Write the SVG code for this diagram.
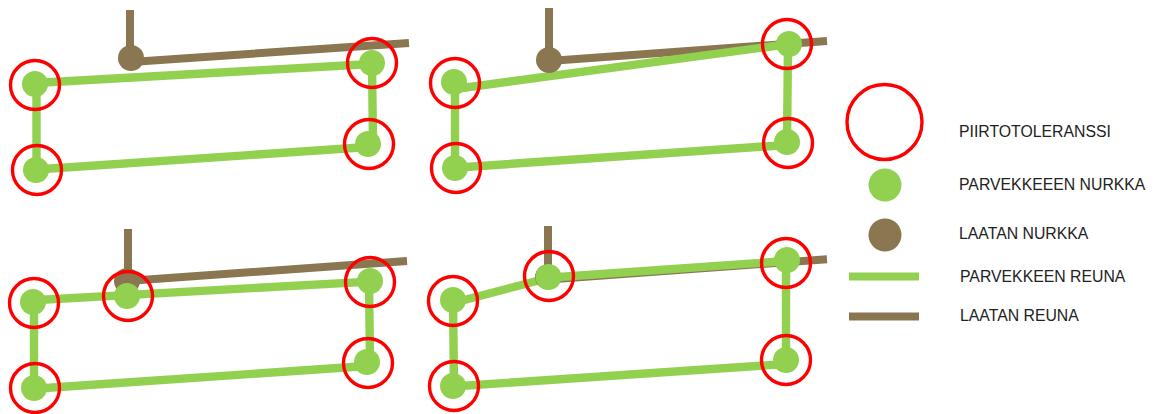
<svg xmlns="http://www.w3.org/2000/svg" width="1157" height="414" viewBox="0 0 1157 414">
<style>
.ge{fill:none;stroke:#92d050;stroke-width:8.400}
.te{fill:none;stroke:#8a7650;stroke-width:8}
.gn{fill:#92d050}
.tn{fill:#8a7650}
.tol{fill:none;stroke:#ff0000;stroke-width:3.4}
text{font-family:"Liberation Sans",Arial,sans-serif;font-size:15.8px;fill:#222222}
</style>
<rect width="1157" height="414" fill="#ffffff"/>
<g id="connectors">
<path class="te" d="M130 10V58M131 62L409 43"/>
<path class="ge" d="M35 83L372 64M372 63L373 144M368 147L36 169.500M36.500 84V170"/>
<path class="te" d="M549 8V60M549 61L827 41"/>
<path class="ge" d="M455 89L789 44M788 44L787 142M787 145L455 167.700M455 83V168"/>
<path class="te" d="M128 229V281M127 281L407 261"/>
<path class="ge" d="M33 300.200L370 281.600M369 281L370 362M367 366L34 388.800M34 302V388"/>
<path class="te" d="M548 226V277M548 279.500L827 259.300"/>
<path class="ge" d="M453 303L548 278M548 277.700L787 261M786 260V360M786 364L453 386.500M453 300L454 386"/>
</g>
<g id="panel-1">
<circle class="tn" cx="131" cy="58" r="13"/>
<circle class="gn" cx="35" cy="84" r="13"/><circle class="gn" cx="372" cy="63" r="13"/><circle class="gn" cx="368" cy="144" r="13"/><circle class="gn" cx="36" cy="170" r="13"/>
<circle class="tol" cx="35" cy="85" r="24.500"/><circle class="tol" cx="372" cy="63" r="24.500"/><circle class="tol" cx="369" cy="144" r="24.500"/><circle class="tol" cx="37" cy="170" r="24.500"/>
</g>
<g id="panel-2">
<circle class="tn" cx="549" cy="60" r="13"/>
<circle class="gn" cx="454" cy="82" r="13"/><circle class="gn" cx="789" cy="44" r="13"/><circle class="gn" cx="787" cy="142" r="13"/><circle class="gn" cx="455" cy="168" r="13"/>
<circle class="tol" cx="455" cy="83" r="24.500"/><circle class="tol" cx="787" cy="44" r="24.500"/><circle class="tol" cx="788" cy="143" r="24.500"/><circle class="tol" cx="456" cy="168" r="24.500"/>
</g>
<g id="panel-3">
<circle class="tn" cx="127" cy="281" r="13"/>
<circle class="gn" cx="33" cy="302" r="13"/><circle class="gn" cx="127" cy="296" r="13"/><circle class="gn" cx="370" cy="281" r="13"/><circle class="gn" cx="367" cy="362" r="13"/><circle class="gn" cx="34" cy="388" r="13"/>
<circle class="tol" cx="34" cy="303" r="24.500"/><circle class="tol" cx="128" cy="296" r="24.500"/><circle class="tol" cx="370" cy="282" r="24.500"/><circle class="tol" cx="368" cy="363" r="24.500"/><circle class="tol" cx="35" cy="388" r="24.500"/>
</g>
<g id="panel-4">
<circle class="tn" cx="547.500" cy="277" r="12.500"/>
<circle class="gn" cx="453" cy="300" r="13"/><circle class="gn" cx="548.500" cy="277" r="13"/><circle class="gn" cx="787" cy="260" r="13"/><circle class="gn" cx="786" cy="360" r="13"/><circle class="gn" cx="453" cy="386" r="13"/>
<circle class="tol" cx="453" cy="301" r="24.500"/><circle class="tol" cx="549" cy="276" r="24.500"/><circle class="tol" cx="786" cy="263" r="24.500"/><circle class="tol" cx="786" cy="360" r="24.500"/><circle class="tol" cx="454" cy="386" r="24.500"/>
</g>
<g id="legend-tolerance"><circle class="tol" cx="884.500" cy="122" r="37.500"/><text x="959" y="137">PIIRTOTOLERANSSI</text></g>
<g id="legend-balcony-corner"><circle class="gn" cx="885" cy="185" r="16.500"/><text x="959" y="190">PARVEKKEEEN NURKKA</text></g>
<g id="legend-slab-corner"><circle class="tn" cx="885" cy="235" r="16.500"/><text x="959" y="239">LAATAN NURKKA</text></g>
<g id="legend-balcony-edge"><path class="te" style="stroke:#92d050" d="M849 276.500H919"/><text x="960" y="282">PARVEKKEEN REUNA</text></g>
<g id="legend-slab-edge"><path class="te" d="M849 316.500H919"/><text x="960" y="321">LAATAN REUNA</text></g>
</svg>
